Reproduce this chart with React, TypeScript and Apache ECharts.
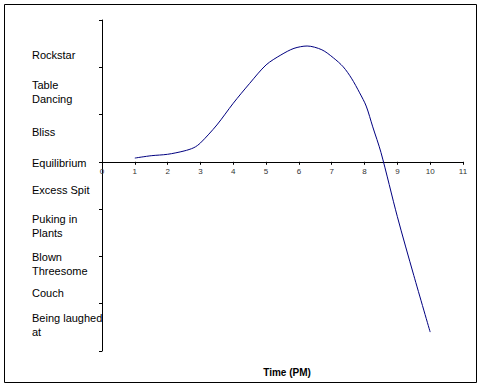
import React, { useEffect, useRef } from "react";
import * as echarts from "echarts";

const moodLabels = [
  "Rockstar",
  "Table\nDancing",
  "Bliss",
  "Equilibrium",
  "Excess Spit",
  "Puking in\nPlants",
  "Blown\nThreesome",
  "Couch",
  "Being laughed\nat",
];
const moodLevels = [2.25, 1.48, 0.64, -0.02, -0.6, -1.35, -2.17, -2.78, -3.46];
const tickLevels = [-4, -3, -2, -1, 0, 1, 2, 3];

const timeValues = [1, 1.5, 2, 2.5, 2.8, 3, 3.5, 4, 4.5, 5, 5.45, 5.85, 6.25, 6.7, 7.05, 7.35, 7.6, 7.85, 8.05, 8.25, 8.5, 9, 9.5, 10];
const moodValues = [0.08, 0.13, 0.16, 0.23, 0.3, 0.4, 0.78, 1.24, 1.66, 2.05, 2.26, 2.4, 2.45, 2.37, 2.2, 2.01, 1.77, 1.46, 1.18, 0.74, 0.2, -1.16, -2.4, -3.6];

export default function App() {
  const ref = useRef<HTMLDivElement>(null);
  useEffect(() => {
    if (!ref.current) return;
    const chart = echarts.init(ref.current, undefined, { renderer: "svg" });
    const font = "Arial, 'Liberation Sans', sans-serif";
    chart.setOption({
      animation: false,
      backgroundColor: "#ffffff",
      title: {
        text: "Time (PM)",
        left: 282,
        top: 362,
        textAlign: "center",
        textStyle: { fontSize: 10, fontWeight: "bold", color: "#000", fontFamily: font },
      },
      graphic: [
        {
          type: "rect",
          shape: { x: 4.5, y: 4.5, width: 472, height: 378 },
          style: { fill: "none", stroke: "#000", lineWidth: 1 },
          silent: true,
        },
      ],
      grid: { left: 102, right: 18, top: 20, bottom: 38 },
      xAxis: {
        type: "value",
        min: 0,
        max: 11,
        interval: 1,
        position: "bottom",
        offset: -189.2,
        splitLine: { show: false },
        axisLine: { onZero: false, lineStyle: { color: "#000", width: 1 } },
        axisTick: { show: true, length: 3, lineStyle: { color: "#000" } },
        axisLabel: { fontSize: 8, color: "#333", margin: 6, fontFamily: font },
      },
      yAxis: {
        type: "value",
        min: -4,
        max: 3,
        interval: 1,
        splitLine: { show: false },
        axisLine: { show: true, onZero: false, lineStyle: { color: "#000", width: 1 } },
        axisTick: { show: true, length: 3, customValues: tickLevels, lineStyle: { color: "#000" } },
        axisLabel: {
          customValues: moodLevels,
          align: "left",
          margin: 70,
          fontSize: 11,
          lineHeight: 14,
          color: "#000",
          fontFamily: font,
          formatter: (v: number) => {
            let best = 0;
            moodLevels.forEach((m, i) => {
              if (Math.abs(m - v) < Math.abs(moodLevels[best] - v)) best = i;
            });
            return moodLabels[best];
          },
        },
      },
      series: [
        {
          type: "line",
          data: timeValues.map((t, i) => [t, moodValues[i]]),
          smooth: 0.3,
          showSymbol: false,
          lineStyle: { color: "#000080", width: 1 },
        },
      ],
    });
    return () => chart.dispose();
  }, []);
  return (
    <div
      ref={ref}
      style={{ position: "fixed", left: 0, top: 0, width: 481, height: 389 }}
    />
  );
}
